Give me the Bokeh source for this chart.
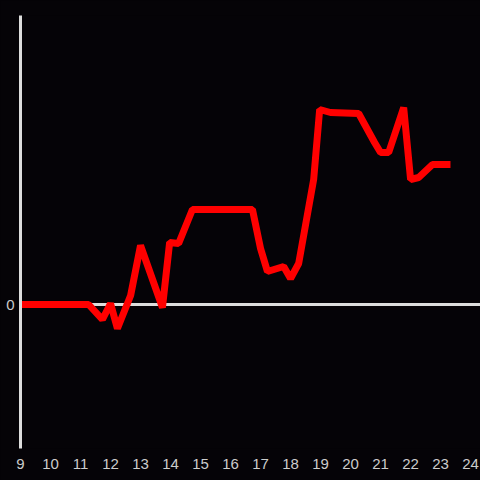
from bokeh.plotting import figure
from bokeh.models import Range1d, FixedTicker, Span
from bokeh.embed import file_html
from bokeh.resources import INLINE

# data (x in hours, y in arbitrary units)
xs = [9, 11.27, 11.73, 12.0, 12.23, 12.67, 13.0, 13.73, 13.97, 14.27, 14.73,
      16.73, 17.0, 17.23, 17.77, 18.0, 18.27, 18.77, 18.97, 19.33, 20.27,
      20.8, 21.0, 21.27, 21.77, 22.0, 22.27, 22.73, 23.33]
ys = [0, 0, -1.5, 0.1, -2.4, 0.9, 5.9, -0.3, 6.2, 6.1, 9.5,
      9.5, 5.6, 3.3, 3.8, 2.6, 4.1, 12.5, 19.5, 19.2, 19.1,
      16.2, 15.2, 15.2, 19.7, 12.5, 12.7, 14.0, 14.0]
x_ticks = list(range(9, 25))
y_ticks = [0]

BG = "#050307"
AX = "#dddddd"
LBL = "#cccccc"

p = figure(width=480, height=480, output_backend="svg", toolbar_location=None,
           x_range=Range1d(9, 24.33), y_range=Range1d(-14.4, 28.9),
           min_border_left=20, min_border_right=0, min_border_top=15, min_border_bottom=32)
p.background_fill_color = BG
p.border_fill_color = BG
p.outline_line_color = None
p.grid.visible = False

p.xaxis.ticker = FixedTicker(ticks=x_ticks)
p.xaxis.axis_line_color = None
p.xaxis.major_tick_line_color = None
p.xaxis.minor_tick_line_color = None
p.xaxis.major_label_text_color = LBL
p.xaxis.major_label_text_font = "Liberation Sans"
p.xaxis.major_label_text_font_size = "15px"
p.xaxis.major_label_standoff = 4

p.yaxis.ticker = FixedTicker(ticks=y_ticks)
p.yaxis.axis_line_color = AX
p.yaxis.axis_line_width = 3
p.yaxis.major_tick_line_color = None
p.yaxis.minor_tick_line_color = None
p.yaxis.major_label_text_color = LBL
p.yaxis.major_label_text_font = "Liberation Sans"
p.yaxis.major_label_text_font_size = "15px"
p.yaxis.major_label_standoff = 0

p.add_layout(Span(location=0, dimension="width", line_color=AX, line_width=3,
                  level="underlay"))

p.line(xs, ys, line_color="#ff0000", line_width=7, line_join="bevel")

html = file_html(p, INLINE)
html = html.replace("<head>", "<head><style>html,body{margin:0;padding:0;background:%s;overflow:hidden}</style>" % BG, 1)
open("out.html", "w").write(html)
